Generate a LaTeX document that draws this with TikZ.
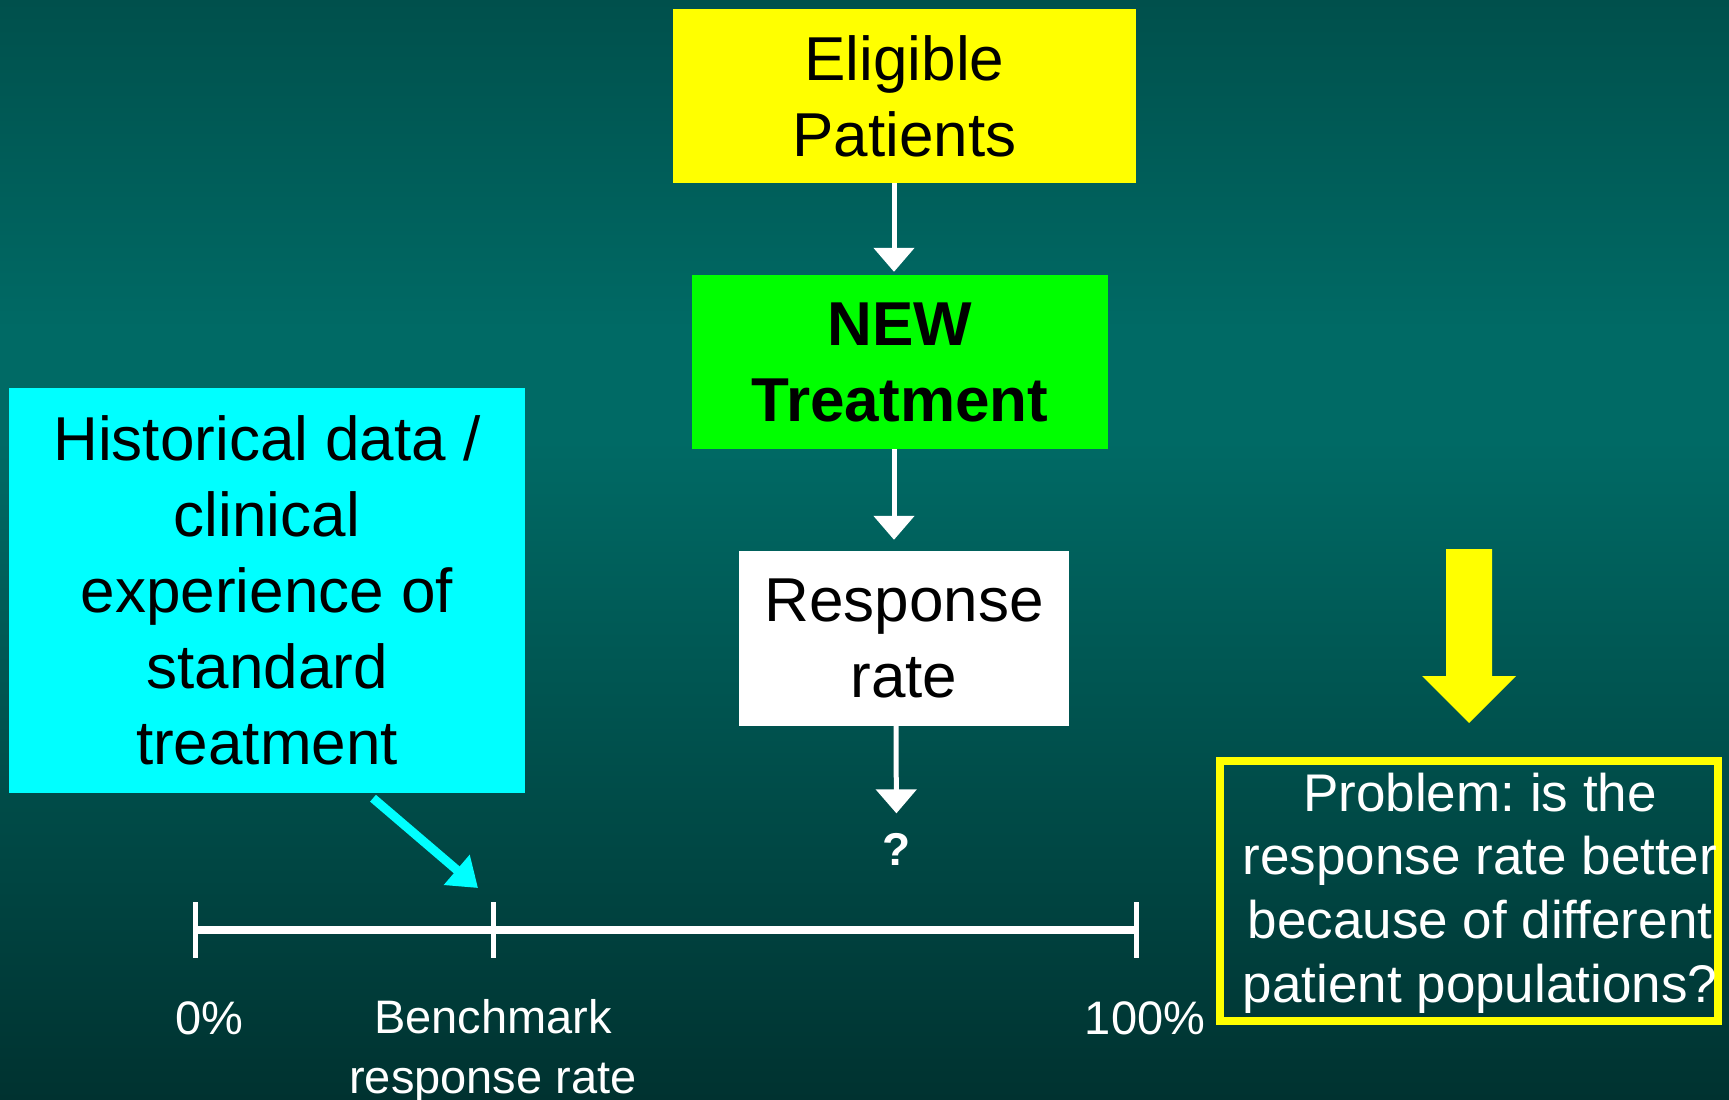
\documentclass[tikz,border=0pt]{standalone}
\usepackage{fontspec}
\setmainfont{Liberation Sans}
\frenchspacing
\usetikzlibrary{arrows.meta}
\definecolor{bg-top}{RGB}       {  0,  80,  76}
\definecolor{bg-mid}{RGB}       {  0, 106, 101}
\definecolor{bg-bottom}{RGB}    {  0,  50,  48}
\definecolor{box-yellow}{RGB}   {255, 255,   0}
\definecolor{box-green}{RGB}    {  0, 255,   0}
\definecolor{box-cyan}{RGB}     {  0, 255, 255}
% slide background, brightest a little above the middle
\pgfdeclareverticalshading{slidebg}{100bp}{color(0bp)=(bg-bottom); color(25bp)=(bg-bottom); color(55bp)=(bg-mid); color(60bp)=(bg-mid); color(75bp)=(bg-top); color(100bp)=(bg-top)}

\begin{document}
\begin{tikzpicture}[x=1pt,y=-1pt,
	stage/.style={inner sep=0pt, align=center, font=\fontsize{62}{76}\selectfont},
	flow/.style={draw=white, line width=5pt, -{Triangle[width=40pt,length=24pt]}},
	axistext/.style={inner sep=0pt, text=white, align=center, font=\fontsize{47}{60}\selectfont},
	tick/.style={draw=white, line width=5pt}]
% canvas and background
\useasboundingbox (0,0) rectangle (1729,1100);
\shade[shading=slidebg] (0,0) rectangle (1729,1100);

% study flow
\node[stage, fill=box-yellow, minimum width=463pt, minimum height=174pt] (eligible) at (904.5,96) {Eligible\\Patients};
\node[stage, fill=box-green, minimum width=416pt, minimum height=174pt, font=\fontsize{62}{76}\selectfont\bfseries] (newtreat) at (900,362) {NEW\\Treatment};
\node[stage, fill=white, minimum width=330pt, minimum height=175pt] (response) at (904,638.5) {Response\\rate};
\node[inner sep=0pt, text=white, font=\fontsize{46}{50}\selectfont\bfseries] (q) at (896.5,849.6) {?};

\draw[flow, shorten >=3pt] ([xshift=-10.5pt]eligible.south) -- ([xshift=-6pt]newtreat.north);
\draw[flow, shorten >=11pt] ([xshift=-6pt]newtreat.south) -- ([xshift=-10pt]response.north);
\draw[flow, shorten >=20pt] ([xshift=-8pt]response.south) -- (q.north);

% historical benchmark
\node[stage, fill=box-cyan, minimum width=516pt, minimum height=405pt] (hist) at (267,590.5) {Historical data /\\clinical\\experience of\\standard\\treatment};

% response rate axis
\coordinate (zero) at (195,930);
\coordinate (bench) at (493,930);
\coordinate (full) at (1136,930);
\draw[draw=white, line width=8pt] (zero) -- (full);
\foreach \t in {zero,bench,full}
	\draw[tick] ([yshift=28pt]\t) -- ([yshift=-28pt]\t);
\node[axistext] (zerotext) at (209.5,1018) {0\%};
\node[axistext] (benchtext) at (493,1051.5) {Benchmark\\response rate};
\node[axistext] (fulltext) at (1145,1018) {100\%};

\draw[draw=box-cyan, line width=9pt, -{Triangle[width=38pt,length=28pt]}] ([xshift=106pt,yshift=-5pt]hist.south) -- ([xshift=-15pt,yshift=42pt]bench);

% the problem
\fill[box-yellow] (1446,549) -- (1492,549) -- (1492,676) -- (1516,676) -- (1469,723) -- (1422,676) -- (1446,676) -- cycle;
\node[draw=box-yellow, line width=8.5pt, inner sep=0pt, minimum width=498pt, minimum height=260pt] (problem) at (1469,891) {};
\node[inner sep=0pt, text=white, align=center, font=\fontsize{53}{63.6}\selectfont] (problemtext) at ([xshift=11pt,yshift=-2pt]problem.center) {Problem: is the\\response rate better\\because of different\\patient populations?};
\end{tikzpicture}
\end{document}
